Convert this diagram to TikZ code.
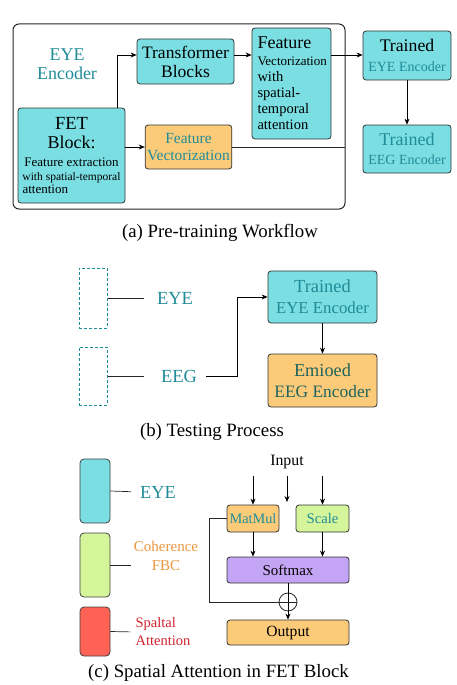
\documentclass[tikz,border=0pt]{standalone}
\usepackage{fontspec}
\setmainfont{Liberation Serif}
\usetikzlibrary{arrows.meta}
\definecolor{eyecyan}{RGB}{122,222,226}
\definecolor{vecorange}{RGB}{252,203,122}
\definecolor{fbcgreen}{RGB}{213,245,155}
\definecolor{smpurple}{RGB}{196,164,244}
\definecolor{attred}{RGB}{253,98,84}
\definecolor{tealtxt}{RGB}{32,140,152}
\definecolor{orangetxt}{RGB}{233,150,60}
\definecolor{redtxt}{RGB}{208,35,45}
\definecolor{darktxt}{RGB}{30,100,92}
\newcommand\fs[2]{\fontsize{#1}{#2}\selectfont}
\tikzset{
  block/.style={draw=black!80,line width=0.8pt,rounded corners=3pt,fill=#1,align=center,inner sep=2pt},
  sz/.style 2 args={minimum width=#1pt,minimum height=#2pt},
  keybox/.style={draw=black!75,line width=0.8pt,rounded corners=4pt,fill=#1,minimum width=30pt,inner sep=0pt},
  dashbox/.style={draw=tealtxt,line width=1pt,dash pattern=on 3pt off 2pt,minimum width=28pt,inner sep=0pt},
  frame/.style={draw=black!85,line width=1pt,rounded corners=6pt},
  arr/.style={-{Stealth[length=6pt,width=5pt]},line width=0.7pt},
  link/.style={line width=0.7pt,black!85},
  tag/.style={inner sep=0pt,align=center},
  subcap/.style={inner sep=0pt,font=\fs{18.8}{20}}
}

\begin{document}
\begin{tikzpicture}[x=1pt,y=-1pt]
  \useasboundingbox (0,0) rectangle (456,685);

  % (a) Pre-training
  \draw[frame] (13,24) rectangle (345,209);
  \coordinate (edge) at (345,146);
  \coordinate (row) at (0,55);
  \node[tag,text=tealtxt,font=\fs{18}{19}] (eyeenc) at (67,64) {EYE\\Encoder};
  \node[block=eyecyan,sz={97}{45},font=\fs{17.5}{19}] (transf) at (185.5,61.5) {Transformer\\Blocks};
  \node[block=eyecyan,sz={79}{111},text width=68pt,align=left,font=\fs{14.5}{16}] (feat) at (291.5,83.5)
    {{\fs{18}{19}Feature}\\[1pt]{\fs{13}{16}Vectorization}\\with\\spatial-\\temporal\\attention};
  \node[block=eyecyan,sz={88}{49},font=\fs{14}{20}] (teye) at (407,55.5)
    {{\fs{17.7}{20}Trained}\\{\color{tealtxt}EYE Encoder}};
  \node[block=eyecyan,sz={88}{48},text=tealtxt,font=\fs{14}{19}] (teeg) at (407,149)
    {{\fs{18}{19}Trained}\\EEG Encoder};
  \node[block=eyecyan,sz={107}{95},font=\fs{13}{14}] (fet) at (71.5,155.5)
    {{\fs{18.5}{19}FET}\\[5pt]{\fs{18}{19}Block:}\\[4pt]Feature extraction\\[0pt]{\fs{11.5}{13}with spatial-temporal}\\[-1pt]\makebox[98pt][l]{attention}};
  \node[block=vecorange,sz={85}{44},text=tealtxt,font=\fs{15.5}{17}] (fvec) at (188.5,147) {Feature\\Vectorization};

  \draw[arr] ([xshift=-8pt]fet.north east) |- (transf.west |- row);
  \draw[arr] (transf.east |- row) -- (feat.west |- row);
  \draw[arr] (feat.east |- row) -- (teye.west |- row);
  \draw[arr] (teye.south) -- (teeg.north);
  \draw[arr] (fet.east |- fvec.west) -- (fvec.west);
  \draw[link] (fvec.east) -- (fvec.east -| edge);
  \node[subcap] (capa) at (220,233) {(a) Pre-training Workflow};

  % (b) Testing
  \node[dashbox,minimum height=60pt] (deye) at (93,298) {};
  \node[dashbox,minimum height=58pt] (deeg) at (93,376) {};
  \node[tag,text=tealtxt,font=\fs{18.5}{20}] (leye) at (175,298) {EYE};
  \node[tag,text=tealtxt,font=\fs{18.5}{20}] (leeg) at (179,376) {EEG};
  \node[block=eyecyan,sz={109}{52},text=tealtxt,font=\fs{16.8}{21}] (beye) at (322.5,297)
    {{\fs{18.4}{21}Trained}\\EYE Encoder};
  \node[block=vecorange,sz={109}{53},text=darktxt,font=\fs{17.4}{21}] (beeg) at (322.5,380.5)
    {{\fs{18.3}{21}Emioed}\\EEG Encoder};
  \coordinate (turn) at (237,376);

  \draw[link,shorten >=13pt] (deye.east) -- (leye.west);
  \draw[link,shorten >=17pt] (deeg.east) -- (leeg.west);
  \draw[arr,shorten <=9pt] (leeg.east) -- (turn) |- (beye.west);
  \draw[arr] (beye.south) -- (beeg.north);
  \node[subcap] (capb) at (212,432) {(b) Testing Process};

  % (c) Spatial attention
  \node[keybox=eyecyan,minimum height=64pt] (keye) at (95,491) {};
  \node[keybox=fbcgreen,minimum height=64pt] (kfbc) at (95,565) {};
  \node[keybox=attred,minimum height=49pt] (katt) at (95,631.5) {};
  \node[tag,text=tealtxt,font=\fs{18.4}{20}] (lkeye) at (158,492) {EYE};
  \node[tag,text=orangetxt,font=\fs{15}{19}] (lkfbc) at (166,556) {Coherence\\FBC};
  \node[tag,align=left,text=redtxt,font=\fs{14.5}{18}] (lkatt) at (163,632) {Spaltal\\Attention};

  \draw[link,shorten >=9pt] (keye.east) -- (lkeye.west);
  \draw[link,shorten >=3pt] (kfbc.east) -- (kfbc.east -| lkfbc.west);
  \draw[link,shorten >=5pt] (katt.east) -- (lkatt.west);

  \node[tag,font=\fs{15.8}{18}] (inp) at (287,462) {Input};
  \node[block=vecorange,sz={52}{27},text=tealtxt,font=\fs{14.3}{16}] (mm) at (253,518.5) {MatMul};
  \node[block=fbcgreen,sz={53}{27},text=tealtxt,font=\fs{14.6}{16}] (sc) at (322.5,518.5) {Scale};
  \node[block=smpurple,sz={122}{26},font=\fs{15}{17}] (sm) at (288,570) {Softmax};
  \node[draw=black!85,line width=0.8pt,circle,minimum size=18pt,inner sep=0pt] (add) at (288,602) {};
  \node[block=vecorange,sz={122}{25},font=\fs{15.6}{17}] (out) at (288,632.5) {Output};
  \coordinate (gap) at (287,502);
  \coordinate (bypass) at (209,518.5);

  \draw[arr,shorten <=7pt] (mm.north |- inp.south) -- (mm.north);
  \draw[arr,shorten <=7pt] (inp.south) -- (gap);
  \draw[arr,shorten <=7pt] (sc.north |- inp.south) -- (sc.north);
  \draw[arr] (mm.south) -- (mm.south |- sm.north);
  \draw[arr] (sc.south) -- (sc.south |- sm.north);
  \draw[arr] (sm.south) -- (out.north);
  \draw[link] (add.west) -- (add.east);
  \draw[link] (mm.west) -- (bypass) |- (add.west);
  \node[subcap] (capc) at (218.5,673) {(c) Spatial Attention in FET Block};
\end{tikzpicture}
\end{document}
